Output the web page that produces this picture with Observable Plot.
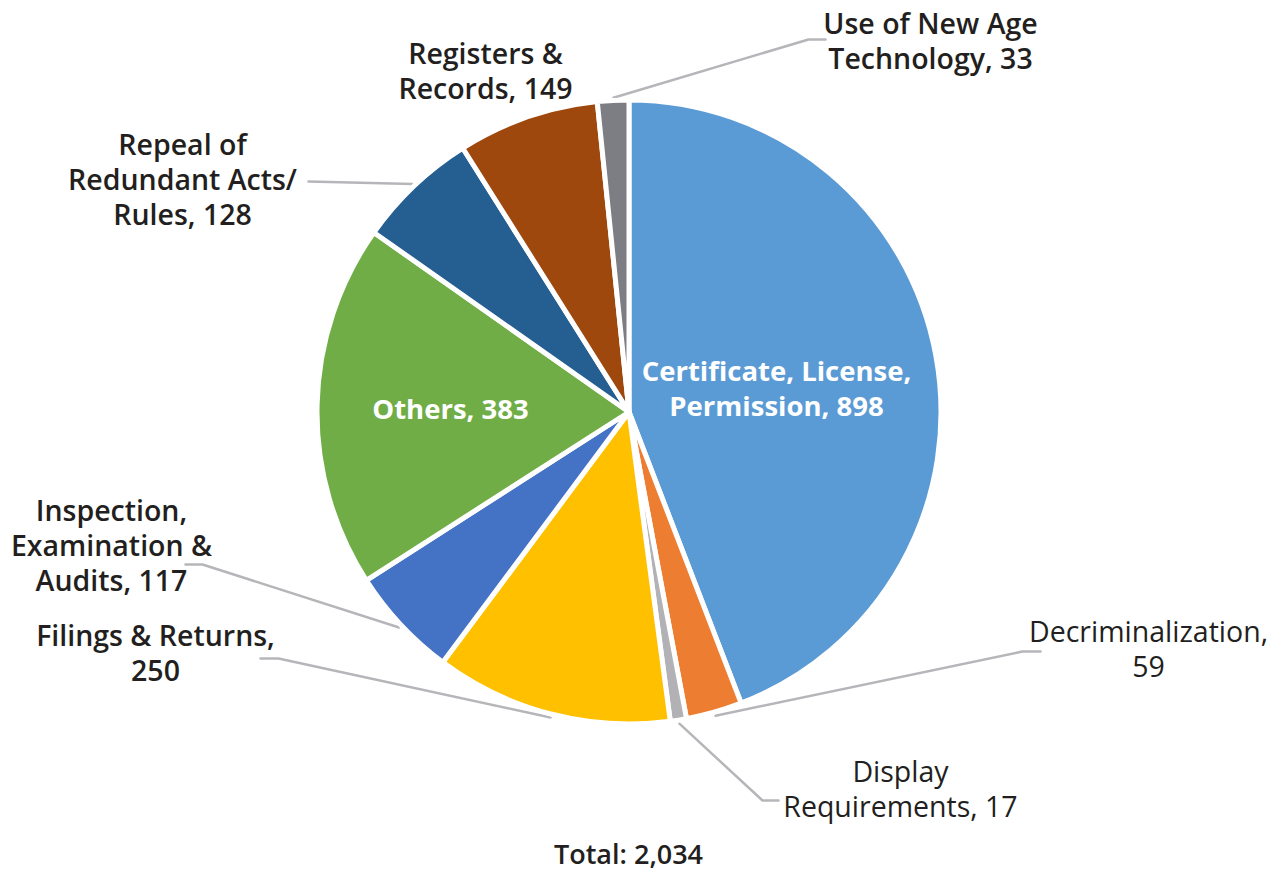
<!DOCTYPE html>
<html><head><meta charset="utf-8">
<script src="https://cdn.jsdelivr.net/npm/d3@7"></script>
<script src="https://cdn.jsdelivr.net/npm/@observablehq/plot@0.6"></script>
<style>html,body{margin:0;padding:0;background:#fff;} #chart svg{display:block;}</style>
</head><body><div id="chart"></div>
<script>
// ---- data ----
const categories = ["Certificate, License, Permission", "Decriminalization", "Display Requirements",
  "Filings & Returns", "Inspection, Examination & Audits", "Others", "Repeal of Redundant Acts/ Rules",
  "Registers & Records", "Use of New Age Technology"];
const values = [898, 59, 17, 250, 117, 383, 128, 149, 33];
const colors = ["#5B9BD5", "#ED7D31", "#B2B2B6", "#FFC000", "#4472C4", "#70AD47", "#255E91", "#9E480E", "#7D7E83"];
const labelTemplates = ["Certificate, License,\nPermission, {v}", "Decriminalization,\n{v}", "Display\nRequirements, {v}",
  "Filings & Returns,\n{v}", "Inspection,\nExamination &\nAudits, {v}", "Others, {v}", "Repeal of\nRedundant Acts/\nRules, {v}",
  "Registers &\nRecords, {v}", "Use of New Age\nTechnology, {v}"];

// ---- layout ----
const W = 1288, H = 876, CX = 629, CY = 412, R = 312;
const FONT = "'Open Sans', sans-serif";
const labelLayout = [
  {x: 776, y: 387, kind: "inside"},
  {x: 1148, y: 648, kind: "light", leader: [[1022, 651], [1040, 651]]},
  {x: 900, y: 788, kind: "light", leader: [[762, 800], [778, 800]]},
  {x: 155, y: 652, kind: "outside", leader: [[278, 658], [260, 658]]},
  {x: 111, y: 544, kind: "outside", leader: [[202, 564], [185, 564]]},
  {x: 450, y: 407, kind: "inside"},
  {x: 182, y: 178, kind: "outside", leader: [[308, 181]]},
  {x: 485, y: 70, kind: "outside"},
  {x: 930, y: 40, kind: "outside", leader: [[808, 39], [825, 39]]}
];

const total = d3.sum(values);
const rows = categories.map((c, i) => ({category: c, value: values[i]}));
const arcs = d3.pie().sort(null).value(d => d.value)(rows);
const color = Plot.scale({color: {type: "ordinal", domain: categories, range: colors}});

const labels = arcs.map((a, i) => ({
  ...labelLayout[i],
  text: labelTemplates[i].replace("{v}", d3.format(",")(a.data.value)),
  mid: (a.startAngle + a.endAngle) / 2
}));

const leaderPts = [];
labels.forEach((l, i) => {
  if (!l.leader) return;
  leaderPts.push({id: i, x: CX + R * 1.01 * Math.sin(l.mid), y: CY - R * 1.01 * Math.cos(l.mid)});
  l.leader.forEach(p => leaderPts.push({id: i, x: p[0], y: p[1]}));
});

const pieMark = (index, scales) => {
  const cx = scales.x(CX), cy = scales.y(CY), r = scales.x(CX + R) - scales.x(CX);
  const g = d3.create("svg:g").attr("transform", `translate(${cx},${cy})`);
  g.selectAll("path").data(arcs).join("path")
    .attr("d", d3.arc().innerRadius(0).outerRadius(r))
    .attr("fill", d => color.apply(d.data.category))
    .attr("stroke", "#fff").attr("stroke-width", 5).attr("stroke-linejoin", "round");
  return g.node();
};

const FS = 28.5, LH = 35 / 28.5, FSI = 27.5;
const chart = Plot.plot({
  width: W, height: H, margin: 0,
  x: {domain: [0, W], range: [0, W], axis: null},
  y: {domain: [0, H], range: [0, H], axis: null},
  style: {fontFamily: FONT, background: "#fff"},
  marks: [
    Plot.line(leaderPts, {x: "x", y: "y", z: "id", stroke: "#B6B6BA", strokeWidth: 2.5}),
    pieMark,
    Plot.text(labels.filter(d => d.kind === "outside"), {x: "x", y: "y", text: "text", fill: "#231F20",
      fontSize: FS, fontWeight: 600, lineHeight: LH, fontFamily: FONT}),
    Plot.text(labels.filter(d => d.kind === "light"), {x: "x", y: "y", text: "text", fill: "#231F20",
      fontSize: FS, fontWeight: 500, lineHeight: LH, fontFamily: FONT}),
    Plot.text(labels.filter(d => d.kind === "inside"), {x: "x", y: "y", text: "text", fill: "#FFFFFF",
      fontSize: FSI, fontWeight: 700, lineHeight: 35 / FSI, fontFamily: FONT}),
    Plot.text([{x: CX - 1, y: 855, text: `Total: ${d3.format(",")(total)}`}], {x: "x", y: "y", text: "text",
      fill: "#231F20", fontSize: 27, fontWeight: 600, fontFamily: FONT})
  ]
});
document.getElementById("chart").append(chart);
</script></body></html>
